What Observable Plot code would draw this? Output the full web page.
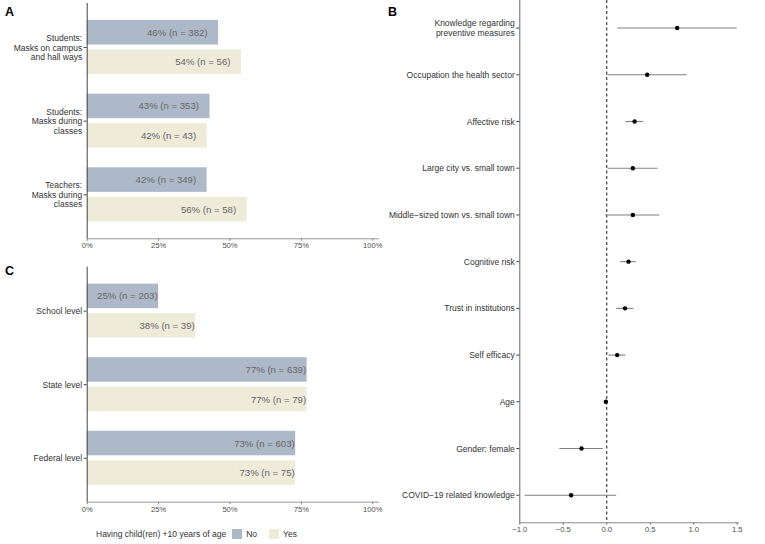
<!DOCTYPE html>
<html>
<head>
<meta charset="utf-8">
<script src="https://cdn.jsdelivr.net/npm/d3@7"></script>
<script src="https://cdn.jsdelivr.net/npm/@observablehq/plot@0.6"></script>
<style>
  html, body { margin: 0; padding: 0; background: #fff; }
  #root { position: relative; width: 765px; height: 544px; font-family: "Liberation Sans", Arial, sans-serif; }
  .panel { position: absolute; }
  .letter { position: absolute; font-weight: bold; font-size: 12.5px; color: #000; }
  #legend { position: absolute; left: 96px; top: 529px; font-size: 8.5px; color: #333; display: flex; align-items: center; white-space: nowrap; }
  .sw { display: inline-block; width: 10px; height: 10px; margin: 0 4px 0 6px; }
</style>
</head>
<body>
<div id="root">
  <div class="panel" id="pA" style="left:0;top:0"></div>
  <div class="panel" id="pC" style="left:0;top:255px"></div>
  <div class="panel" id="pB" style="left:390px;top:0"></div>
  <div class="letter" style="left:5px;top:5px">A</div>
  <div class="letter" style="left:388px;top:5px">B</div>
  <div class="letter" style="left:5px;top:264px">C</div>
  <div id="legend"></div>
</div>
<script>
// ---------- data ----------
const responses = ["No", "Yes"];
const responseColors = ["#adb9c8", "#eeebd9"];
const legendTitle = "Having child(ren) +10 years of age";

const groupsA = ["Students: Masks on campus and hall ways", "Students: Masks during classes", "Teachers: Masks during classes"];
const tickLabelsA = ["Students:\nMasks on campus\nand hall ways", "Students:\nMasks during\nclasses", "Teachers:\nMasks during\nclasses"];
const noPctA = [46, 43, 42];
const noNA = [382, 353, 349];
const yesPctA = [54, 42, 56];
const yesNA = [56, 43, 58];

const groupsC = ["School level", "State level", "Federal level"];
const tickLabelsC = ["School level", "State level", "Federal level"];
const noPctC = [25, 77, 73];
const noNC = [203, 639, 603];
const yesPctC = [38, 77, 73];
const yesNC = [39, 79, 75];

const shareTicks = [0, 0.25, 0.5, 0.75, 1];

const termsB = [
  "Knowledge regarding preventive measures",
  "Occupation the health sector",
  "Affective risk",
  "Large city vs. small town",
  "Middle−sized town vs. small town",
  "Cognitive risk",
  "Trust in institutions",
  "Self efficacy",
  "Age",
  "Gender: female",
  "COVID−19 related knowledge"
];
const termLabelsB = [
  "Knowledge regarding\npreventive measures",
  "Occupation the health sector",
  "Affective risk",
  "Large city vs. small town",
  "Middle−sized town vs. small town",
  "Cognitive risk",
  "Trust in institutions",
  "Self efficacy",
  "Age",
  "Gender: female",
  "COVID−19 related knowledge"
];
const estB  = [0.81, 0.465, 0.32, 0.30, 0.30, 0.25, 0.21, 0.12, -0.01, -0.29, -0.41];
const lowB  = [0.125, 0.01, 0.22, 0.015, -0.012, 0.16, 0.115, 0.023, -0.03, -0.54, -0.94];
const highB = [1.50, 0.925, 0.425, 0.59, 0.61, 0.34, 0.31, 0.22, 0.01, -0.04, 0.115];
const coefTicks = [-1, -0.5, 0, 0.5, 1, 1.5];

// ---------- helpers ----------
const font = "Liberation Sans, Arial, sans-serif";

function barPanel(groups, tickLabels, noPct, noN, yesPct, yesN, opts) {
  const rows = [];
  groups.forEach((g, i) => {
    rows.push({group: g, response: "No", pct: noPct[i], n: noN[i], share: noPct[i] / 100});
    rows.push({group: g, response: "Yes", pct: yesPct[i], n: yesN[i], share: yesPct[i] / 100});
  });
  const noRows = rows.filter(d => d.response === "No");
  const yesRows = rows.filter(d => d.response === "Yes");
  const label = d => `${d.pct}% (n = ${d.n})`;
  return Plot.plot({
    width: 390,
    height: opts.height,
    marginLeft: 86.7,
    marginRight: 12,
    marginTop: opts.marginTop,
    marginBottom: opts.marginBottom,
    style: {fontFamily: font, background: "transparent", overflow: "visible"},
    x: {domain: [0, 1.02]},
    y: {domain: groups, paddingInner: 0.266, paddingOuter: 0.23, round: false},
    color: {domain: responses, range: responseColors},
    marks: [
      Plot.barX(noRows, {y: "group", x: "share", fill: "response", insetBottom: 29.5}),
      Plot.barX(yesRows, {y: "group", x: "share", fill: "response", insetTop: 29.5}),
      Plot.text(noRows, {y: "group", x: "share", text: label, textAnchor: "end", dy: -14.75, dx: opts.labelDx, fill: "#666", fontSize: 9.6}),
      Plot.text(yesRows, {y: "group", x: "share", text: label, textAnchor: "end", dy: 14.75, dx: opts.labelDx, fill: "#666", fontSize: 9.6}),
      Plot.frame({anchor: "bottom", stroke: "#999", strokeWidth: 1}),
      Plot.ruleX([0], {stroke: "#444", strokeWidth: 1}),
      Plot.axisX({ticks: shareTicks, tickFormat: d3.format(".0%"), tickSize: 2.5, tickPadding: 1.5, fontSize: 7.6, stroke: "#888", fill: "#4d4d4d", label: null}),
      Plot.axisY({tickSize: 3, tickPadding: 2, tickFormat: d => tickLabels[groups.indexOf(d)], fontSize: 8.5, fill: "#333", stroke: "#444", lineHeight: 1.12, label: null})
    ]
  });
}

// ---------- panel A ----------
document.getElementById("pA").appendChild(
  barPanel(groupsA, tickLabelsA, noPctA, noNA, yesPctA, yesNA, {height: 255, marginTop: 3, marginBottom: 16.7, labelDx: -11})
);

// ---------- panel C ----------
document.getElementById("pC").appendChild(
  barPanel(groupsC, tickLabelsC, noPctC, noNC, yesPctC, yesNC, {height: 262, marginTop: 11.7, marginBottom: 15.3, labelDx: -1})
);

// ---------- panel B ----------
const coefRows = termsB.map((t, i) => ({term: t, est: estB[i], low: lowB[i], high: highB[i]}));
document.getElementById("pB").appendChild(Plot.plot({
  width: 375,
  height: 544,
  marginLeft: 129.3,
  marginRight: 27,
  marginTop: 0,
  marginBottom: 21.7,
  style: {fontFamily: font, background: "transparent", overflow: "visible"},
  x: {domain: [-1, 1.515]},
  y: {type: "point", domain: termsB, padding: 0.59, round: false},
  marks: [
    Plot.ruleX([0], {stroke: "#000", strokeDasharray: "3,2.5", strokeWidth: 0.9}),
    Plot.ruleY(coefRows, {y: "term", x1: "low", x2: "high", stroke: "#808080", strokeWidth: 1.1}),
    Plot.dot(coefRows, {y: "term", x: "est", r: 2.2, fill: "#000", stroke: null}),
    Plot.frame({anchor: "bottom", stroke: "#888", strokeWidth: 1}),
    Plot.ruleX([-1], {stroke: "#666", strokeWidth: 1}),
    Plot.axisX({ticks: coefTicks, tickFormat: d3.format(".1f"), tickSize: 2.5, tickPadding: 1.5, fontSize: 7.6, stroke: "#777", fill: "#4d4d4d", label: null}),
    Plot.axisY({tickSize: 3, tickPadding: 2, tickFormat: d => termLabelsB[termsB.indexOf(d)], fontSize: 8.5, fill: "#333", stroke: "#444", lineHeight: 1.12, label: null})
  ]
}));

// ---------- legend ----------
const legend = document.getElementById("legend");
const title = document.createElement("span");
title.textContent = legendTitle;
legend.appendChild(title);
responses.forEach((r, i) => {
  const sw = document.createElement("span");
  sw.className = "sw";
  sw.style.background = responseColors[i];
  legend.appendChild(sw);
  const t = document.createElement("span");
  t.textContent = r;
  t.style.marginRight = "6px";
  legend.appendChild(t);
});
</script>
</body>
</html>
